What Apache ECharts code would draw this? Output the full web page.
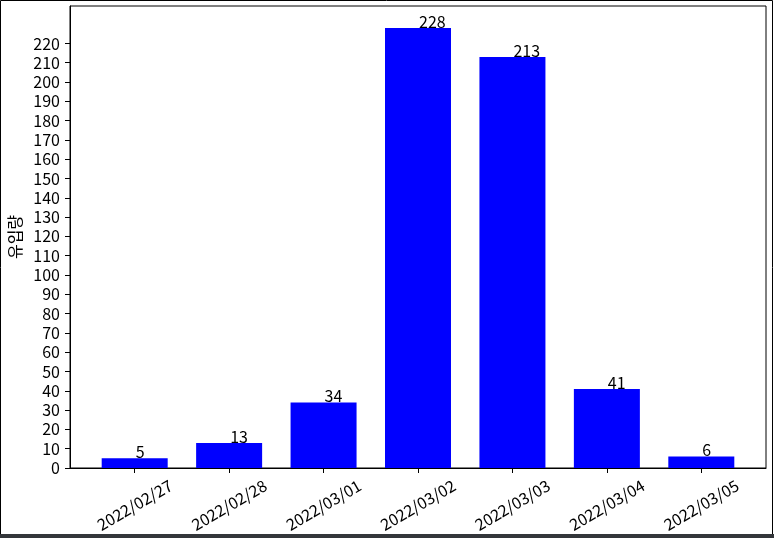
<!DOCTYPE html>
<html>
<head>
<meta charset="utf-8">
<script src="https://cdn.jsdelivr.net/npm/echarts@6/dist/echarts.min.js"></script>
<style>
html,body{margin:0;padding:0;background:#fff;}
#c{width:774px;height:538px;}
</style>
</head>
<body>
<div id="c"></div>
<script>
const categories = ['2022/02/27','2022/02/28','2022/03/01','2022/03/02','2022/03/03','2022/03/04','2022/03/05'];
const values = [5, 13, 34, 228, 213, 41, 6];
const yTicks = [0,10,20,30,40,50,60,70,80,90,100,110,120,130,140,150,160,170,180,190,200,210,220];
const yLabel = '유입량';

const FONT = '"Noto Sans CJK KR", sans-serif';
const FS = 16;
const chart = echarts.init(document.getElementById('c'), null, {renderer: 'canvas'});
const xIdx = categories.map((_, i) => i);
chart.setOption({
  animation: false,
  backgroundColor: '#fff',
  textStyle: {fontFamily: FONT},
  grid: {left: 70, top: 6, right: 8, bottom: 70, outerBoundsMode: 'none', containLabel: false,
         show: true, borderColor: '#000', borderWidth: 1, backgroundColor: 'transparent'},
  xAxis: {
    type: 'value', min: -0.685, max: 6.685,
    splitLine: {show: false},
    axisLine: {show: true, onZero: false, lineStyle: {color: '#000', width: 1}},
    axisTick: {show: true, length: 5, lineStyle: {color: '#000'}, customValues: xIdx},
    axisLabel: {
      customValues: xIdx, rotate: 30, align: 'center', verticalAlign: 'middle', margin: 37,
      color: '#000', fontSize: FS, fontFamily: FONT,
      formatter: v => categories[Math.round(v)]
    }
  },
  yAxis: {
    type: 'value', min: 0, max: 239.4,
    name: yLabel, nameLocation: 'middle', nameGap: 45, nameRotate: 90,
    nameTextStyle: {color: '#000', fontSize: FS, fontFamily: FONT},
    splitLine: {show: false},
    axisLine: {show: true, onZero: false, lineStyle: {color: '#000', width: 1}},
    axisTick: {show: true, length: 5, lineStyle: {color: '#000'}, customValues: yTicks},
    axisLabel: {customValues: yTicks, margin: 10, color: '#000', fontSize: FS, fontFamily: FONT}
  },
  series: [{
    type: 'bar',
    barWidth: 66,
    itemStyle: {color: '#0000ff'},
    data: values.map((v, i) => [i, v]),
    label: {
      show: true, position: 'top', distance: 0, align: 'left', offset: [1, 2],
      color: '#000', fontSize: FS, fontFamily: FONT, lineHeight: 16,
      formatter: p => String(p.value[1])
    }
  }],
  graphic: [
    {type: 'rect', shape: {x: 0.5, y: 0.5, width: 772, height: 534}, style: {fill: 'none', stroke: '#000', lineWidth: 1}, silent: true, z: 100},
    {type: 'rect', shape: {x: 0, y: 534, width: 774, height: 4}, style: {fill: '#33363a'}, silent: true, z: 101}
  ]
});
</script>
</body>
</html>
